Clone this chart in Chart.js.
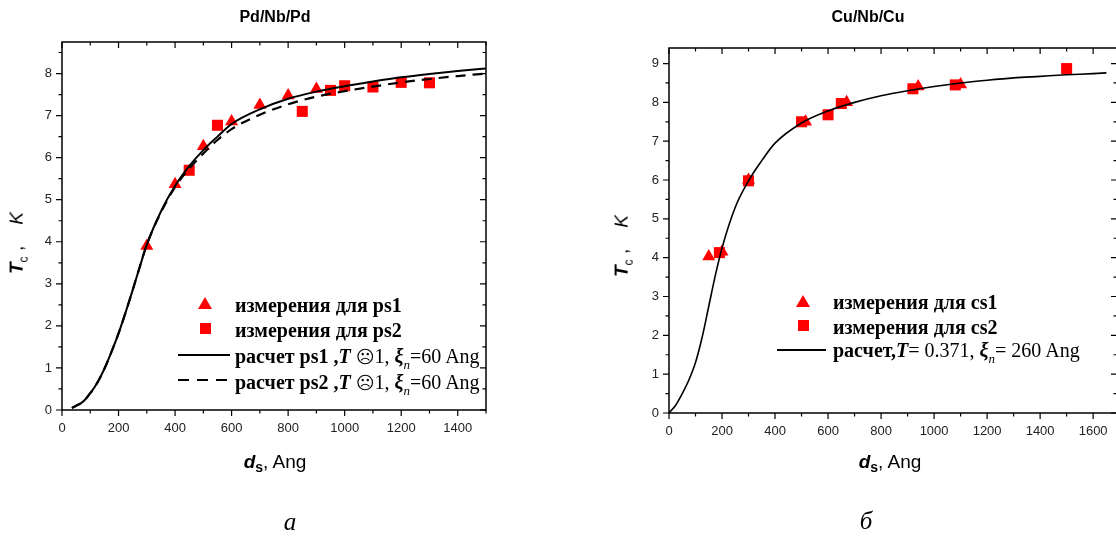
<!DOCTYPE html>
<html>
<head>
<meta charset="utf-8">
<script src="https://cdn.jsdelivr.net/npm/chart.js@4.4.1/dist/chart.umd.min.js"></script>
<style>
html,body{margin:0;padding:0;background:#fff;width:1116px;height:540px;overflow:hidden;position:relative;font-family:"Liberation Sans",Arial,sans-serif;color:#000}
canvas{position:absolute;top:0}
.c{position:absolute;white-space:nowrap;transform:translate(-50%,-50%)}
.title{font-weight:bold;font-size:16px}
.xt{font-size:19px}
.yt{font-size:19px;transform:translate(-50%,-50%) rotate(-90deg)}
.cap{font-family:"Liberation Serif",serif;font-style:italic;font-size:25px}
.lg{position:absolute;white-space:nowrap;font-family:"Liberation Serif",serif;font-size:20px;line-height:22px;height:22px}
.lg b{font-weight:bold}
.tri{position:absolute;width:0;height:0;border-left:7px solid transparent;border-right:7px solid transparent;border-bottom:12px solid #ff0000}
.sq{position:absolute;width:11px;height:11px;background:#ff0000}
.ln{position:absolute;height:2px;background:#000}
.dl{position:absolute;height:2px;background:repeating-linear-gradient(90deg,#000 0 11px,transparent 11px 19px)}
.sub{font-size:13px;position:relative;top:6px;font-style:italic}
.sym{font-family:"DejaVu Sans",sans-serif;font-size:18px}
</style>
</head>
<body>
<canvas id="c1" width="560" height="540" style="left:0"></canvas>
<canvas id="c2" width="580" height="540" style="left:560px"></canvas>

<div class="c title" style="left:275px;top:17px">Pd/Nb/Pd</div>
<div class="c title" style="left:868px;top:17px">Cu/Nb/Cu</div>

<div class="c yt" style="left:18px;top:243px"><b><i>T</i></b><sub style="font-size:12px">c</sub> ,&nbsp;&nbsp;&nbsp; <i>K</i></div>
<div class="c yt" style="left:623px;top:246px"><b><i>T</i></b><sub style="font-size:12px">c</sub> ,&nbsp;&nbsp;&nbsp; <i>K</i></div>

<div class="c xt" style="left:275px;top:463px"><b><i>d</i></b><sub style="font-size:14px;font-weight:bold">s</sub>, Ang</div>
<div class="c xt" style="left:890px;top:463px"><b><i>d</i></b><sub style="font-size:14px;font-weight:bold">s</sub>, Ang</div>

<div class="c cap" style="left:290px;top:522px">а</div>
<div class="c cap" style="left:866px;top:521px">б</div>

<!-- left legend -->
<div class="tri" style="left:198px;top:297px"></div>
<div class="lg" style="left:235px;top:294px"><b>измерения для ps1</b></div>
<div class="sq" style="left:200px;top:323px"></div>
<div class="lg" style="left:235px;top:319px"><b>измерения для ps2</b></div>
<div class="ln" style="left:178px;top:354px;width:52px"></div>
<div class="lg" style="left:235px;top:345px"><b>расчет ps1 ,<i>T</i></b> <span class="sym">☹</span>1, <b><i>ξ</i></b><span class="sub">n</span>=60 Ang</div>
<div class="dl" style="left:178px;top:379px;width:52px"></div>
<div class="lg" style="left:235px;top:371px"><b>расчет ps2 ,<i>T</i></b> <span class="sym">☹</span>1, <b><i>ξ</i></b><span class="sub">n</span>=60 Ang</div>

<!-- right legend -->
<div class="tri" style="left:796px;top:295px"></div>
<div class="lg" style="left:833px;top:291px"><b>измерения для cs1</b></div>
<div class="sq" style="left:798px;top:320px"></div>
<div class="lg" style="left:833px;top:316px"><b>измерения для cs2</b></div>
<div class="ln" style="left:777px;top:349px;width:49px;height:1.5px"></div>
<div class="lg" style="left:833px;top:339px"><b>расчет,<i>T</i></b>= 0.371, <b><i>ξ</i></b><span class="sub">n</span>= 260 Ang</div>

<script>
// ---------- Data: Pd/Nb/Pd ----------
const ps1Ds = [300, 400, 500, 600, 700, 800, 900];
const ps1Tc = [3.9, 5.37, 6.27, 6.86, 7.25, 7.48, 7.63];
const ps2Ds = [450, 550, 850, 950, 1000, 1100, 1200, 1300];
const ps2Tc = [5.7, 6.77, 7.1, 7.6, 7.71, 7.68, 7.79, 7.78];
const calcPdDs = [35, 50, 75, 100, 125, 150, 175, 200, 225, 250, 275, 300, 350, 400, 450, 500, 550, 600, 700, 800, 900, 1000, 1100, 1200, 1300, 1400, 1500];
const calcPs1Tc = [0.05, 0.1, 0.2, 0.4, 0.65, 0.98, 1.38, 1.82, 2.32, 2.85, 3.4, 3.93, 4.72, 5.33, 5.8, 6.18, 6.5, 6.8, 7.15, 7.4, 7.57, 7.7, 7.81, 7.91, 7.99, 8.06, 8.12];
const calcPs2Tc = [0.05, 0.1, 0.2, 0.4, 0.65, 0.98, 1.38, 1.82, 2.32, 2.85, 3.4, 3.93, 4.7, 5.3, 5.74, 6.1, 6.42, 6.68, 7.02, 7.27, 7.45, 7.58, 7.69, 7.79, 7.87, 7.94, 8.0];

// ---------- Data: Cu/Nb/Cu ----------
const cs1Ds = [150, 200, 300, 515, 670, 940, 1100];
const cs1Tc = [4.03, 4.15, 6.0, 7.5, 8.0, 8.41, 8.46];
const cs2Ds = [190, 300, 500, 600, 650, 920, 1080, 1500];
const cs2Tc = [4.13, 5.98, 7.5, 7.68, 7.97, 8.35, 8.45, 8.87];
const calcCuDs = [0, 25, 50, 75, 100, 125, 150, 175, 200, 250, 300, 350, 400, 500, 600, 700, 800, 900, 1000, 1100, 1200, 1300, 1400, 1500, 1600, 1650];
const calcCuTc = [0, 0.2, 0.5, 0.85, 1.3, 1.95, 2.75, 3.55, 4.25, 5.3, 5.98, 6.5, 6.95, 7.47, 7.78, 8.0, 8.17, 8.3, 8.41, 8.5, 8.57, 8.63, 8.67, 8.71, 8.74, 8.76];

function xy(xs, ys) { return xs.map((x, i) => ({ x: x, y: ys[i] })); }

const framePlugin = {
  id: 'frameTicks',
  afterDatasetsDraw(chart, args, o) {
    const ctx = chart.ctx, a = chart.chartArea, xs = chart.scales.x, ys = chart.scales.y;
    ctx.save();
    ctx.strokeStyle = '#000';
    ctx.lineWidth = o.lineWidth;
    ctx.strokeRect(a.left, a.top, a.right - a.left, a.bottom - a.top);
    ctx.lineWidth = o.tickWidth;
    ctx.beginPath();
    const isMajor = (v, m) => Math.abs(v / m - Math.round(v / m)) < 1e-6;
    for (let i = 0; ; i++) {
      const v = xs.min + i * o.xMinor;
      if (v > xs.max + 1e-9) break;
      const px = xs.getPixelForValue(v);
      const L = isMajor(v, o.xMajor) ? o.major : o.minor;
      ctx.moveTo(px, a.bottom); ctx.lineTo(px, a.bottom + L);
      ctx.moveTo(px, a.top); ctx.lineTo(px, a.top + L);
    }
    for (let i = 0; ; i++) {
      const v = ys.min + i * o.yMinor;
      if (v > ys.max + 1e-9) break;
      const py = ys.getPixelForValue(v);
      const L = isMajor(v, o.yMajor) ? o.major : o.minor;
      ctx.moveTo(a.left, py); ctx.lineTo(a.left - L, py);
      ctx.moveTo(a.right, py); ctx.lineTo(a.right - L, py);
    }
    ctx.stroke();
    ctx.restore();
  }
};

const tickFont = { family: '"Liberation Sans", Arial, sans-serif', size: 13 };
const plain = v => String(v);

function axes(xMax, yMax, xStep, leftW, bottomH) {
  return {
    x: {
      type: 'linear', min: 0, max: xMax,
      ticks: { stepSize: xStep, includeBounds: false, font: tickFont, color: '#222', padding: 11, maxRotation: 0, autoSkip: false, callback: plain },
      grid: { display: false, drawTicks: false },
      border: { display: false },
      afterFit(s) { s.height = bottomH; }
    },
    y: {
      type: 'linear', min: 0, max: yMax,
      ticks: { stepSize: 1, includeBounds: false, font: tickFont, color: '#222', padding: 10, callback: plain },
      grid: { display: false, drawTicks: false },
      border: { display: false },
      afterFit(s) { s.width = leftW; }
    }
  };
}

const markerStyle = (shape, r) => ({
  type: 'scatter', showLine: false, pointStyle: shape, pointRadius: r, pointHoverRadius: r,
  backgroundColor: '#ff0000', borderColor: '#ff0000', borderWidth: 0
});

new Chart(document.getElementById('c1'), {
  type: 'scatter',
  data: {
    datasets: [
      { type: 'line', label: 'расчет ps1', data: xy(calcPdDs, calcPs1Tc), borderColor: '#000', borderWidth: 2, pointRadius: 0, fill: false, cubicInterpolationMode: 'monotone' },
      { type: 'line', label: 'расчет ps2', data: xy(calcPdDs, calcPs2Tc), borderColor: '#000', borderWidth: 2.2, borderDash: [10, 7], pointRadius: 0, fill: false, cubicInterpolationMode: 'monotone' },
      Object.assign({ label: 'измерения для ps1', data: xy(ps1Ds, ps1Tc) }, markerStyle('triangle', 7.5)),
      Object.assign({ label: 'измерения для ps2', data: xy(ps2Ds, ps2Tc) }, markerStyle('rect', 7.8))
    ]
  },
  options: {
    responsive: false, animation: false,
    layout: { padding: { left: 0, top: 42, right: 560 - 486, bottom: 0 } },
    plugins: {
      legend: { display: false }, tooltip: { enabled: false },
      frameTicks: { lineWidth: 1.5, tickWidth: 1.2, major: 6, minor: 3.5, xMinor: 100, xMajor: 200, yMinor: 0.5, yMajor: 1 }
    },
    scales: axes(1500, 8.75, 200, 62, 540 - 410)
  },
  plugins: [framePlugin]
});

new Chart(document.getElementById('c2'), {
  type: 'scatter',
  data: {
    datasets: [
      { type: 'line', label: 'расчет', data: xy(calcCuDs, calcCuTc), borderColor: '#000', borderWidth: 1.6, pointRadius: 0, fill: false, cubicInterpolationMode: 'monotone' },
      Object.assign({ label: 'измерения для cs1', data: xy(cs1Ds, cs1Tc) }, markerStyle('triangle', 7.5)),
      Object.assign({ label: 'измерения для cs2', data: xy(cs2Ds, cs2Tc) }, markerStyle('rect', 7.8))
    ]
  },
  options: {
    responsive: false, animation: false,
    layout: { padding: { left: 0, top: 48, right: 580 - 557, bottom: 0 } },
    plugins: {
      legend: { display: false }, tooltip: { enabled: false },
      frameTicks: { lineWidth: 1.5, tickWidth: 1.2, major: 6, minor: 3.5, xMinor: 100, xMajor: 200, yMinor: 0.5, yMajor: 1 }
    },
    scales: axes(1690, 9.4, 200, 109, 540 - 413)
  },
  plugins: [framePlugin]
});
</script>
</body>
</html>
